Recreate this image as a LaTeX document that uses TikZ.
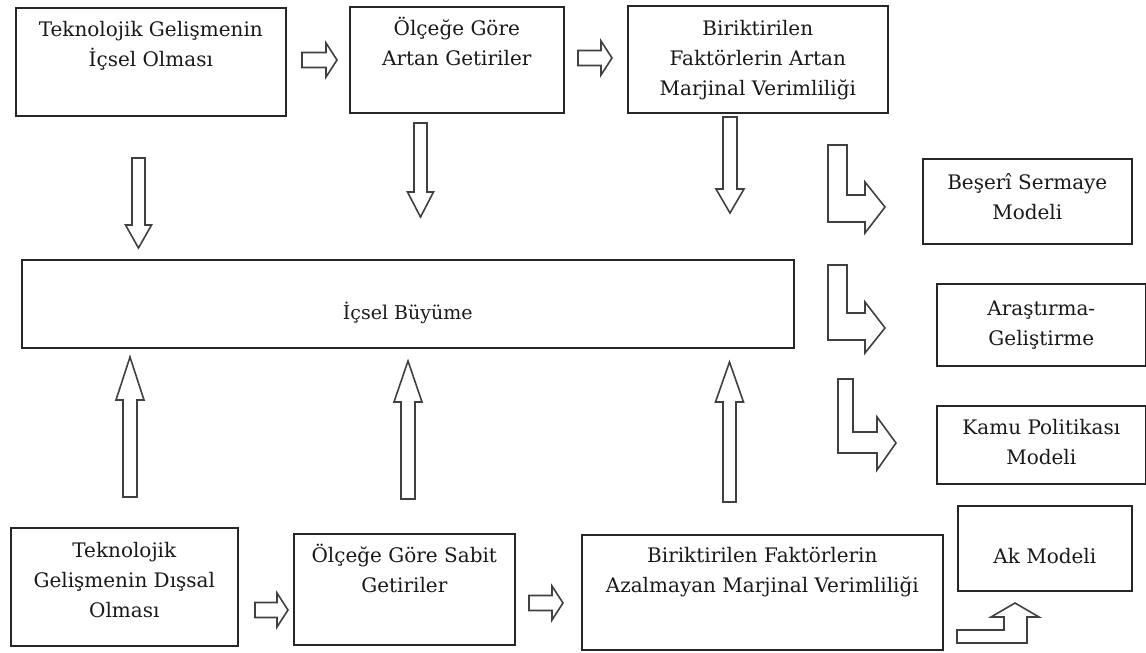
\documentclass[tikz,border=0pt]{standalone}
\usepackage{fontspec}
\setmainfont{DejaVu Serif}
\usepackage{tikz}

\newcommand{\boxfont}{\fontsize{20}{30}\selectfont}

\tikzset{
  box/.style n args={3}{draw=black!85, line width=1.6pt, anchor=north west,
    align=center, inner sep=0pt, font=\boxfont, text=black!90,
    minimum width=#1, text height=#2, text depth=#3},
  hollow/.style={draw=black!75, line width=1.6pt, line join=miter, fill=white}
}

\begin{document}
\begin{tikzpicture}[x=1pt,y=-1pt]
\useasboundingbox (0,0) rectangle (1146,653);
% top row
\node [box={270}{59}{49}] (tek1) at (15,7) {Teknolojik Gelişmenin\\İçsel Olması};
\node [box={214}{59}{47}] (olc1) at (349,6) {Ölçeğe Göre\\Artan Getiriler};
\node [box={260}{90}{17}] (bir1) at (627,5) {Biriktirilen\\Faktörlerin Artan\\Marjinal Verimliliği};
% middle
\node [box={772}{60}{28}, font=\fontsize{19}{30}\selectfont] (buyume) at (21,259) {İçsel Büyüme};
% bottom row
\node [box={227}{90}{28}] (tek2) at (10,527) {Teknolojik\\Gelişmenin Dışsal\\Olması};
\node [box={221}{59}{52}] (olc2) at (293,533) {Ölçeğe Göre Sabit\\Getiriler};
\node [box={361}{58}{57}] (bir2) at (581,534) {Biriktirilen Faktörlerin\\Azalmayan Marjinal Verimliliği};
% models
\node [box={209}{61}{24}] (beseri) at (922,158) {Beşerî Sermaye\\Modeli};
\node [box={209}{62}{20}] (arge) at (936,283) {Araştırma-\\Geliştirme};
\node [box={209}{59}{19}] (kamu) at (936,405) {Kamu Politikası\\Modeli};
\node [box={174}{58}{27}] (ak) at (957,505) {Ak Modeli};
% horizontal arrows
\foreach \ta/\hb/\tp/\y in {302/326/337/60, 578/601/612/58, 255/277/288/610, 529/552/563/603}
  \draw [hollow] (\ta,\y-7.5) -- (\hb,\y-7.5) -- (\hb,\y-17) -- (\tp,\y)
    -- (\hb,\y+17) -- (\hb,\y+7.5) -- (\ta,\y+7.5) -- cycle;
% vertical arrows (down and up)
\foreach \x/\ta/\hb/\tp/\sw/\hw in {138.5/158/225/248/6.5/13, 420.5/123/192/217/6.5/13,
    730/117/189/213/7/14, 130/497/400/357/7/14, 408/499/402/361/7/14, 729.5/502/402/362/6.5/14}
  \draw [hollow] (\x-\sw,\ta) -- (\x-\sw,\hb) -- (\x-\hw,\hb) -- (\x,\tp)
    -- (\x+\hw,\hb) -- (\x+\sw,\hb) -- (\x+\sw,\ta) -- cycle;
% bent arrows
\draw [hollow] (828,145) -- (828,222) -- (865,222) -- (865,233) -- (885,207)
  -- (865,182) -- (865,195) -- (847,195) -- (847,145) -- cycle;
\draw [hollow] (828,265) -- (828,340) -- (865,340) -- (865,353) -- (885,328)
  -- (865,302) -- (865,313) -- (847,313) -- (847,265) -- cycle;
\draw [hollow] (838,379) -- (838,453) -- (877,453) -- (877,470) -- (896,443)
  -- (877,417) -- (877,432) -- (853,432) -- (853,379) -- cycle;
\draw [hollow] (957,643) -- (1027,643) -- (1027,617) -- (1039,617) -- (1015,603)
  -- (991,617) -- (1004,617) -- (1004,630) -- (957,630) -- cycle;
\end{tikzpicture}
\end{document}
